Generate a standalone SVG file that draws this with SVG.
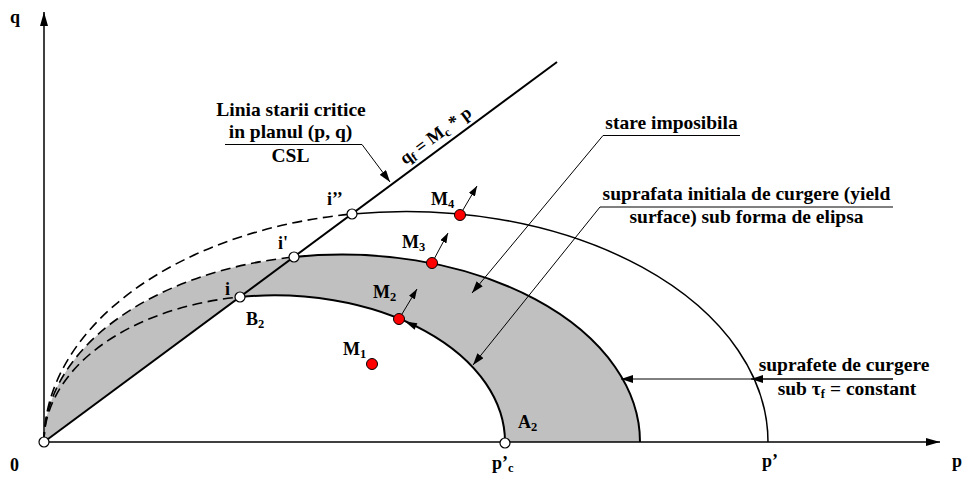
<svg xmlns="http://www.w3.org/2000/svg" width="963" height="480" viewBox="0 0 963 480">
<style>
text{font-family:'Liberation Serif','Times New Roman',serif;font-weight:bold;font-size:19.5px;fill:#000}
.lbl{font-size:18px}
.sub{font-size:12.5px}
.thick{fill:none;stroke:#000;stroke-width:2}
.thin{fill:none;stroke:#000;stroke-width:1.5}
.dash{fill:none;stroke:#000;stroke-width:1.6;stroke-dasharray:10,5.5}
.lead{fill:none;stroke:#000;stroke-width:1}
.open{fill:#fff;stroke:#000;stroke-width:1.2}
.red{fill:#ff0000;stroke:#000;stroke-width:1}
</style>
<defs>
<marker id="ah" viewBox="0 0 12 8" refX="12" refY="4" markerWidth="12" markerHeight="8" markerUnits="userSpaceOnUse" orient="auto">
<path d="M0,0 L12,4 L0,8 Z" fill="#000"/>
</marker>
<marker id="ahs" viewBox="0 0 10 7" refX="10" refY="3.5" markerWidth="10" markerHeight="7" markerUnits="userSpaceOnUse" orient="auto">
<path d="M0,0 L10,3.5 L0,7 Z" fill="#000"/>
</marker>
<marker id="axh" viewBox="0 0 14 8" refX="14" refY="4" markerWidth="14" markerHeight="8" markerUnits="userSpaceOnUse" orient="auto">
<path d="M0,0 L14,4 L0,8 Z" fill="#000"/>
</marker>
</defs>

<g id="shaded-zone">
<path d="M44,442 A298,187.4 0 0 1 640,442 L505,442 A230.5,146.6 0 0 0 240,297 L44,442 Z" fill="#c0c0c0" stroke="none"/>
</g>

<g id="axes">
<line class="thin" x1="44" y1="442" x2="44" y2="12" marker-end="url(#axh)"/>
<line class="thin" x1="44" y1="442" x2="940" y2="442" marker-end="url(#axh)"/>
</g>

<g id="yield-surfaces">
<path class="dash" d="M44,442 A230.5,146.6 0 0 1 240,297"/>
<path class="thick" d="M240,297 A230.5,146.6 0 0 1 505,442"/>
<path class="dash" d="M44,442 A298,187.4 0 0 1 294,257"/>
<path class="thick" d="M294,257 A298,187.4 0 0 1 640,442"/>
<path class="dash" d="M44,442 A362,230.6 0 0 1 352,214"/>
<path class="thin" d="M352,214 A362,230.6 0 0 1 768,442"/>
</g>

<g id="csl">
<line class="thick" x1="44" y1="442" x2="557" y2="62"/>
</g>

<g id="connectors">
<polyline class="lead" points="225,144.5 362,144.5 390,182" marker-end="url(#ah)"/>
<polyline class="lead" points="740,135.5 603,135.5 472,293" marker-end="url(#ah)"/>
<polyline class="lead" points="893,207 600,207 473,365" marker-end="url(#ah)"/>
<line class="lead" x1="893" y1="379" x2="621" y2="379" marker-end="url(#ah)"/>
<line class="lead" x1="893" y1="379" x2="751" y2="379" marker-end="url(#ah)"/>
<line class="lead" x1="399" y1="319" x2="417" y2="289" marker-end="url(#ahs)"/>
<line class="lead" x1="432" y1="263" x2="448" y2="233" marker-end="url(#ahs)"/>
<line class="lead" x1="460" y1="215" x2="477" y2="186" marker-end="url(#ahs)"/>
<path d="M405,321.5 L414.6,329.7 L417.4,323.3 Z" fill="#000"/>
</g>

<g id="point-0"><circle class="open" cx="44" cy="442" r="5"/></g>
<g id="point-B2"><circle class="open" cx="240" cy="297" r="5"/></g>
<g id="point-i1"><circle class="open" cx="294" cy="257" r="5"/></g>
<g id="point-i2"><circle class="open" cx="352" cy="214" r="5"/></g>
<g id="point-A2"><circle class="open" cx="505" cy="443" r="5"/></g>
<g id="point-M1"><circle class="red" cx="372" cy="364" r="5.5"/></g>
<g id="point-M2"><circle class="red" cx="399" cy="319" r="5.5"/></g>
<g id="point-M3"><circle class="red" cx="432" cy="263" r="5.5"/></g>
<g id="point-M4"><circle class="red" cx="460" cy="215" r="5.5"/></g>

<g id="labels">
<text class="lbl" x="10" y="23">q</text>
<text class="lbl" x="10" y="471">0</text>
<text class="lbl" x="952" y="467">p</text>
<text class="lbl" x="762" y="467">p’</text>
<text class="lbl" x="492" y="469">p’<tspan class="sub" dy="3">c</tspan></text>
<text class="lbl" x="518" y="428">A<tspan class="sub" dy="3">2</tspan></text>
<text class="lbl" x="246" y="325">B<tspan class="sub" dy="3">2</tspan></text>
<text class="lbl" x="225" y="295">i</text>
<text class="lbl" x="278" y="249">i'</text>
<text class="lbl" x="327" y="205">i’’</text>
<text class="lbl" x="431" y="205">M<tspan class="sub" dy="3">4</tspan></text>
<text class="lbl" x="402" y="248">M<tspan class="sub" dy="3">3</tspan></text>
<text class="lbl" x="373" y="298">M<tspan class="sub" dy="3">2</tspan></text>
<text class="lbl" x="343" y="355">M<tspan class="sub" dy="3">1</tspan></text>
<text class="lbl" transform="translate(439,140) rotate(-36.5)" text-anchor="middle">q<tspan class="sub" dy="3">f</tspan><tspan dy="-3"> = M</tspan><tspan class="sub" dy="3">c</tspan><tspan dy="-3"> * p</tspan></text>
</g>

<g id="note-csl">
<text x="291" y="115.5" text-anchor="middle">Linia starii critice</text>
<text x="290.5" y="137.5" text-anchor="middle">in planul (p, q)</text>
<text x="290.5" y="161.5" text-anchor="middle">CSL</text>
</g>
<g id="note-impossible">
<text x="671.5" y="129" text-anchor="middle">stare imposibila</text>
</g>
<g id="note-initial">
<text x="746.5" y="200" text-anchor="middle">suprafata initiala de curgere (yield</text>
<text x="746.5" y="223" text-anchor="middle">surface) sub forma de elipsa</text>
</g>
<g id="note-constant">
<text x="844" y="371" text-anchor="middle">suprafete de curgere</text>
<text x="847" y="395" text-anchor="middle">sub τ<tspan class="sub" dy="3">f</tspan><tspan dy="-3"> = constant</tspan></text>
</g>
</svg>
